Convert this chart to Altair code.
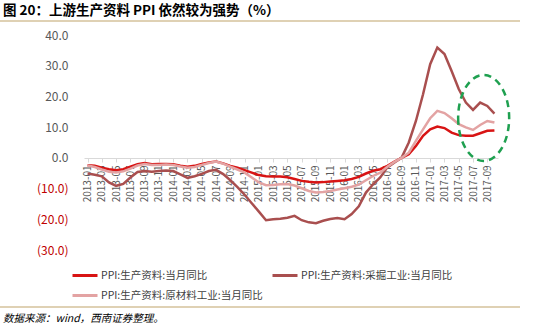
import altair as alt
import pandas as pd

months = [f"{y}-{m:02d}" for y in range(2013, 2018) for m in range(1, 13)][:58]
label_months = months[::2]

ppi_prod = [-2.4, -2.6, -3.2, -3.7, -4.0, -3.7, -2.9, -2.1, -1.7, -2.1, -2.0, -2.0,
            -2.1, -2.6, -2.9, -2.6, -2.0, -1.5, -1.2, -1.8, -2.6, -3.2, -4.0, -4.8,
            -5.6, -6.0, -6.1, -6.1, -6.3, -6.9, -7.5, -7.8, -8.0, -7.9, -7.7, -7.5,
            -7.3, -6.9, -6.2, -5.1, -4.2, -3.7, -2.6, -1.2, 0.0, 1.2, 3.9, 7.2,
            9.3, 10.2, 9.7, 8.2, 7.4, 7.2, 7.2, 8.0, 8.8, 8.9]
ppi_mining = [-5.1, -5.5, -6.0, -8.0, -9.1, -8.5, -6.4, -4.6, -4.3, -4.5, -4.3, -4.1,
              -4.3, -5.4, -6.5, -6.0, -5.2, -4.3, -3.9, -5.3, -7.3, -9.5, -12.0, -14.8,
              -17.5, -20.3, -20.0, -19.8, -19.5, -18.9, -20.3, -21.0, -21.3, -20.5, -19.9, -19.6,
              -20.0, -18.3, -15.8, -11.3, -8.6, -6.4, -3.1, -1.5, 0.1, 5.0, 12.0, 20.7,
              30.5, 35.9, 33.8, 28.3, 22.4, 18.0, 15.6, 18.0, 16.9, 14.4]
ppi_raw = [-2.5, -3.0, -3.8, -4.5, -4.8, -4.4, -3.5, -2.5, -2.0, -2.3, -2.3, -2.2,
           -2.3, -2.8, -3.2, -3.0, -2.3, -1.7, -1.2, -1.9, -2.9, -3.8, -4.8, -6.4,
           -8.0, -8.9, -8.8, -8.6, -8.5, -9.0, -9.9, -10.8, -11.3, -11.1, -10.8, -10.3,
           -9.9, -9.4, -8.7, -7.3, -5.9, -4.8, -2.9, -1.3, 0.0, 1.7, 5.5, 9.3,
           12.9, 15.3, 14.6, 12.9, 11.0, 9.9, 9.1, 10.7, 12.0, 11.5]

series_names = ["PPI:生产资料:当月同比", "PPI:生产资料:采掘工业:当月同比", "PPI:生产资料:原材料工业:当月同比"]
series_colors = ["#D81414", "#A94F4F", "#E3A3A3"]
y_ticks = [-30, -20, -10, 0, 10, 20, 30, 40]

title_text = "图 20：上游生产资料 PPI 依然较为强势（%）"
source_text = "数据来源：wind，西南证券整理。"

# annotation ellipse centre (data coords)
ellipse_month = ["2017-08"]
ellipse_value = [13.0]

rows = []
for name, vals in zip(series_names, [ppi_prod, ppi_mining, ppi_raw]):
    for m, v in zip(months, vals):
        rows.append({"month": m, "value": v, "series": name})
df = pd.DataFrame(rows)

FONT = "Noto Sans CJK SC"

x_axis = alt.Axis(values=label_months, labelAngle=270, labelAlign="right",
                  labelBaseline="middle", labelFontSize=10, labelColor="#595959",
                  labelFont=FONT, labelPadding=3, offset=-92,
                  domainColor="#D9D9D9", tickColor="#D9D9D9", tickSize=4,
                  grid=False, title=None)
y_axis = alt.Axis(values=y_ticks, grid=False, domain=False, ticks=False,
                  labelPadding=16, labelFontSize=12, labelFont=FONT,
                  labelOverlap=False, labelFlush=False, labelSeparation=0,
                  labelExpr="datum.value < 0 ? '(' + format(-datum.value, '.1f') + ')' : format(datum.value, '.1f')",
                  labelColor={"condition": {"test": "datum.value < 0", "value": "#C00000"},
                              "value": "#595959"},
                  title=None)
x_scale = alt.Scale(type="point", padding=0.5)
y_scale = alt.Scale(domain=[-30, 40], nice=False, zero=False)

lines = alt.Chart(df).mark_line(strokeWidth=2.5).encode(
    x=alt.X("month:O", sort=months, scale=x_scale, axis=x_axis),
    y=alt.Y("value:Q", scale=y_scale, axis=y_axis),
    color=alt.Color("series:N", sort=series_names,
                    scale=alt.Scale(domain=series_names, range=series_colors),
                    legend=alt.Legend(orient="none", legendX=-13, legendY=226.5, columns=2,
                                      direction="horizontal", title=None,
                                      symbolType="stroke", symbolSize=625, symbolStrokeWidth=3,
                                      labelFont=FONT, labelFontSize=10.5, labelColor="#404040",
                                      labelLimit=400,
                                      labelOffset=2, columnPadding=3, rowPadding=-5,
                                      gridAlign="each")),
)

ell_df = pd.DataFrame({"month": ellipse_month, "value": ellipse_value})
ellipse = alt.Chart(ell_df).mark_point(
    shape="M -0.593 0 A 0.593 1 0 1 0 0.593 0 A 0.593 1 0 1 0 -0.593 0",
    size=7396, filled=False, stroke="#1FA050", strokeWidth=2.5, strokeDash=[7, 5],
    opacity=1, xOffset=3.5
).encode(x=alt.X("month:O", sort=months, scale=x_scale, axis=x_axis),
         y=alt.Y("value:Q", scale=y_scale, axis=y_axis))

title = alt.Chart(pd.DataFrame({"t": [title_text]})).mark_text(
    align="left", baseline="middle", fontSize=13.5, fontWeight="bold", font=FONT, color="#000000"
).encode(x=alt.value(-81), y=alt.value(-24), text="t:N")

source = alt.Chart(pd.DataFrame({"t": [source_text]})).mark_text(
    align="left", baseline="middle", fontSize=10.5, fontStyle="italic", font=FONT, color="#000000"
).encode(x=alt.value(-81), y=alt.value(284), text="t:N")

rule_top = alt.Chart(pd.DataFrame({"a": [0]})).mark_rule(color="#BFA46A", strokeWidth=1.2).encode(
    x=alt.value(-84), x2=alt.value(436), y=alt.value(-14))
rule_bot = alt.Chart(pd.DataFrame({"a": [0]})).mark_rule(color="#BFA46A", strokeWidth=1.2).encode(
    x=alt.value(-84), x2=alt.value(436), y=alt.value(272))

chart = alt.layer(lines, ellipse, title, source, rule_top, rule_bot).properties(
    width=414, height=215,
    autosize=alt.AutoSizeParams(type="none"),
    padding={"left": 84, "top": 35, "right": 44, "bottom": 77},
).configure_view(stroke=None).configure_axisY(labelOverlap=False)

chart.save("out.html", embed_options={"renderer": "svg", "actions": False})
